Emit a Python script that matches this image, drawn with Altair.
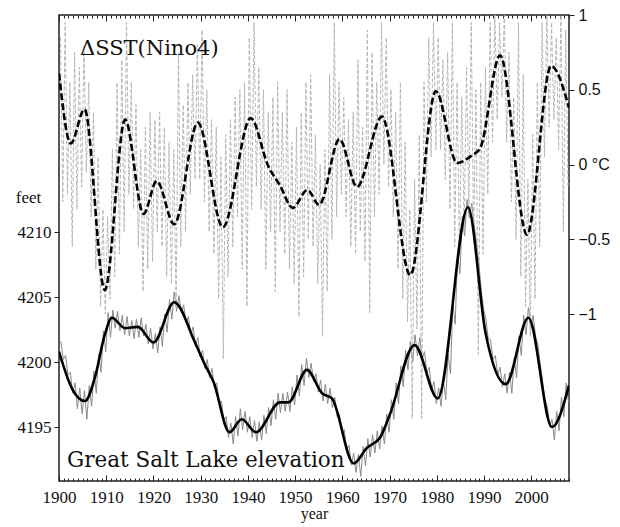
import altair as alt
import pandas as pd

# plot area size in pixels
W, H = 510, 466

YEAR_DOMAIN = [1900, 2008]
FEET_DOMAIN = [4190.85, 4226.69]
SST_DOMAIN = [-2.117, 1.0]

years = list(range(1900, 2008))

# Nino4 SST anomaly (deg C): seasonal highs and lows per year
sst_hi = [
    0.85, 0.95, 0.55, 0.75, 0.65, 0.80, 0.55, 0.35, 0.05, -0.30,
    -0.35, 0.10, 0.55, 0.70, 0.95, 0.55, 0.40, 0.10, 0.25, 0.35,
    0.30, 0.35, 0.25, 0.15, 0.10, 0.75, 0.40, 0.55, 0.60, 0.80,
    0.90, 0.50, 0.30, 0.25, 0.05, 0.20, 0.30, 0.45, 0.50, 0.55,
    0.85, 0.95, 0.65, 0.50, 0.35, 0.45, 0.55, 0.35, 0.50, 0.15,
    0.25, 0.35, 0.55, 0.60, 0.20, 0.00, 0.10, 0.60, 0.95, 0.55,
    0.45, 0.30, 0.35, 0.70, 0.25, 0.90, 0.75, 0.55, 0.95, 0.85,
    0.50, 0.35, 0.55, 0.15, -0.30, -0.10, 0.20, 0.55, 0.85, 0.95,
    0.85, 0.70, 0.75, 0.95, 0.55, 0.45, 0.65, 0.95, 0.50, 0.55,
    0.65, 0.95, 1.00, 0.95, 1.00, 0.75, 0.45, 0.95, 0.60, -0.10,
    0.20, 0.55, 0.95, 1.00, 0.95, 0.85, 1.00, 0.90,
]
sst_lo = [
    -0.25, -0.20, -0.55, -0.30, -0.15, -0.05, -0.35, -0.70, -0.95, -1.00,
    -0.90, -0.75, -0.60, -0.45, -0.20, -0.30, -0.55, -0.85, -0.70, -0.65,
    -0.45, -0.55, -0.75, -0.80, -0.95, -0.55, -0.45, -0.20, -0.10, -0.10,
    -0.25, -0.45, -0.60, -0.90, -1.30, -0.75, -0.55, -0.35, -0.70, -0.95,
    -0.30, -0.15, -0.30, -0.70, -0.45, -0.85, -0.45, -0.60, -0.70, -0.80,
    -1.02, -0.75, -0.50, -0.55, -0.80, -1.15, -0.85, -0.50, -0.35, -0.20,
    -0.35, -0.55, -0.60, -0.45, -0.65, -0.99, -0.35, -0.20, 0.00, -0.15,
    -0.35, -0.70, -0.90, -1.05, -1.70, -1.10, -1.70, -0.25, 0.05, 0.10,
    0.10, -0.10, -0.30, -0.55, -0.60, -0.45, -0.30, -0.50, -1.27, -0.60,
    -0.20, 0.15, 0.30, 0.45, 0.15, -0.25, -0.50, -0.75, -0.95, -1.15,
    -0.90, -0.55, 0.05, 0.25, 0.30, 0.10, -0.45, -0.15,
]

# Great Salt Lake elevation (feet): spring highs and autumn lows per year
gsl_hi = [
    4201.6, 4200.5, 4199.2, 4198.4, 4198.0, 4197.8, 4198.2, 4199.3, 4200.6, 4202.4,
    4203.8, 4204.0, 4203.9, 4203.6, 4203.5, 4203.2, 4203.3, 4203.4, 4202.9, 4202.6,
    4202.2, 4202.7, 4203.7, 4204.8, 4205.4, 4205.1, 4204.4, 4203.5, 4202.7, 4201.9,
    4200.9, 4200.2, 4199.5, 4198.4, 4197.0, 4195.8, 4195.3, 4195.8, 4196.4, 4196.2,
    4195.8, 4195.5, 4195.4, 4195.9, 4196.5, 4197.1, 4197.6, 4197.6, 4197.7, 4198.1,
    4199.0, 4199.8, 4200.3, 4199.9, 4199.1, 4198.6, 4198.3, 4198.0, 4197.3, 4196.0,
    4194.8, 4193.6, 4193.0, 4192.9, 4193.5, 4194.1, 4194.4, 4194.7, 4195.1, 4196.0,
    4197.1, 4198.4, 4199.7, 4200.9, 4201.6, 4202.1, 4201.9, 4200.8, 4199.6, 4198.5,
    4198.0, 4198.6, 4200.6, 4204.5, 4208.4, 4211.2, 4212.5, 4212.2, 4209.2, 4205.6,
    4203.3, 4201.7, 4200.5, 4199.6, 4199.1, 4199.2, 4200.3, 4202.0, 4203.6, 4204.2,
    4203.6, 4201.4, 4198.6, 4196.6, 4195.6, 4196.2, 4197.3, 4198.4,
]
gsl_lo = [
    4200.2, 4199.0, 4197.6, 4196.4, 4196.0, 4195.6, 4196.6, 4197.6, 4199.2, 4200.8,
    4201.9, 4202.6, 4202.4, 4202.1, 4202.0, 4201.8, 4201.9, 4202.0, 4201.4, 4201.0,
    4200.7, 4201.2, 4202.3, 4203.3, 4203.9, 4203.8, 4203.0, 4202.1, 4201.2, 4200.4,
    4199.5, 4198.8, 4198.0, 4196.9, 4195.4, 4194.2, 4193.7, 4194.3, 4194.8, 4194.6,
    4194.2, 4193.9, 4194.0, 4194.5, 4195.1, 4195.6, 4196.1, 4196.2, 4196.2, 4196.7,
    4197.4, 4198.2, 4198.8, 4198.5, 4197.7, 4197.0, 4196.8, 4196.5, 4195.8, 4194.5,
    4193.2, 4192.1, 4191.5, 4191.2, 4192.0, 4192.7, 4193.0, 4193.3, 4193.7, 4194.6,
    4195.6, 4196.8, 4198.1, 4199.4, 4200.0, 4200.5, 4200.2, 4199.2, 4197.9, 4196.8,
    4196.6, 4197.1, 4199.1, 4202.9, 4206.8, 4209.7, 4211.1, 4210.6, 4207.7, 4204.1,
    4201.8, 4200.2, 4199.0, 4198.1, 4197.6, 4197.6, 4198.8, 4200.5, 4202.1, 4202.6,
    4202.0, 4199.9, 4197.1, 4195.0, 4194.0, 4194.7, 4195.8, 4196.9,
]

# low-pass filtered curves (turning points)
sst_smooth_year = [1900, 1902.5, 1905.4, 1909.7, 1914, 1917.9, 1920.7, 1924.4, 1929.4,
                   1934.7, 1940.6, 1944.3, 1946.8, 1949.5, 1952.6, 1955.1, 1959.4,
                   1963.1, 1968.4, 1974.4, 1979.8, 1984.3, 1987.4, 1989.2, 1993.4,
                   1999.1, 2004.2, 2008]
sst_smooth_val = [0.61, 0.14, 0.37, -0.84, 0.30, -0.33, -0.11, -0.40, 0.28,
                  -0.42, 0.31, -0.01, -0.14, -0.29, -0.17, -0.27, 0.17,
                  -0.15, 0.32, -0.74, 0.49, 0.01, 0.06, 0.11, 0.73,
                  -0.47, 0.66, 0.38]

gsl_smooth_year = [1900, 1902.7, 1905.5, 1907.6, 1909.7, 1911.2, 1914, 1916.7, 1920,
                   1924.4, 1928.8, 1930.9, 1932.7, 1936.1, 1938.7, 1941.7, 1946.8,
                   1948.6, 1952.5, 1955.7, 1957.8, 1962.4, 1965.2, 1968, 1970.1,
                   1975.3, 1980.2, 1986.6, 1990.3, 1994.6, 1999.4, 2004.4, 2008]
gsl_smooth_val = [4200.8, 4198.0, 4197.0, 4198.8, 4202.1, 4203.4, 4202.6, 4202.7, 4201.5,
                  4204.6, 4201.5, 4199.8, 4198.5, 4194.6, 4195.6, 4194.6, 4196.9,
                  4196.9, 4199.4, 4197.6, 4197.2, 4192.2, 4193.4, 4194.2, 4196.0,
                  4201.3, 4197.2, 4211.9, 4202.3, 4198.3, 4203.4, 4195.0, 4198.2]

decade_ticks = list(range(1900, 2001, 10))
year_ticks = list(range(1900, 2009))
feet_ticks = [4195, 4200, 4205, 4210]
sst_ticks = [-1, -0.5, 0, 0.5, 1]

raw_sst = pd.DataFrame({
    "year": [y + 0.3 for y in years] + [y + 0.8 for y in years],
    "sst": sst_hi + sst_lo,
}).sort_values("year")
raw_gsl = pd.DataFrame({
    "year": [y + 0.4 for y in years] + [y + 0.9 for y in years],
    "feet": gsl_hi + gsl_lo,
}).sort_values("year")
smooth_sst = pd.DataFrame({"year": sst_smooth_year, "sst": sst_smooth_val})
smooth_gsl = pd.DataFrame({"year": gsl_smooth_year, "feet": gsl_smooth_val})

SERIF = "Liberation Serif"
SANS = "Liberation Sans"
INK = "#111111"

x_scale = alt.Scale(domain=YEAR_DOMAIN, nice=False, zero=False)
feet_scale = alt.Scale(domain=FEET_DOMAIN, nice=False, zero=False)
sst_scale = alt.Scale(domain=SST_DOMAIN, nice=False, zero=False)


def inner_ticks(orient, values, size):
    # tick-only axis moved onto the opposite frame edge so its ticks point inward
    return alt.Axis(orient=orient, offset=-H, values=values, tickSize=size,
                    tickColor="#222222", tickWidth=1, labels=False, domain=False,
                    grid=False, title=None)


gsl_raw_line = alt.Chart(raw_gsl).mark_line(
    color="#8a8a8a", strokeWidth=1, clip=True
).encode(
    x=alt.X("year:Q", scale=x_scale, axis=alt.Axis(
        orient="bottom", values=decade_ticks, ticks=False, domain=False, grid=False,
        format="d", labelFont=SERIF, labelFontSize=17, labelColor=INK,
        labelPadding=8, labelFlush=False, labelOverlap=False,
        title="year", titleFont=SERIF, titleFontSize=16, titleFontWeight="normal",
        titleColor=INK, titlePadding=0)),
    y=alt.Y("feet:Q", scale=feet_scale, axis=alt.Axis(
        orient="left", values=feet_ticks, tickSize=5, tickColor="#222222",
        domain=False, grid=False, format="d", labelFont=SERIF, labelFontSize=17,
        labelColor=INK, labelPadding=3,
        title="feet", titleAngle=0, titleX=-31, titleY=182, titleAlign="center",
        titleBaseline="middle", titleFont=SERIF, titleFontSize=17,
        titleFontWeight="normal", titleColor=INK)),
)

sst_raw_line = alt.Chart(raw_sst).mark_line(
    color="#b5b5b5", strokeWidth=1, strokeDash=[4, 2], clip=True
).encode(
    x=alt.X("year:Q", scale=x_scale, axis=inner_ticks("bottom", year_ticks, 3)),
    y=alt.Y("sst:Q", scale=sst_scale, axis=alt.Axis(
        orient="right", values=sst_ticks, tickSize=5, tickColor="#222222",
        domain=False, grid=False, format="~g",
        labelExpr="datum.value == 0 ? '0  \u00b0C' : replace(datum.label, '-', '\u2212')",
        labelFont=SANS, labelFontSize=16, labelColor=INK, labelPadding=4,
        title=None)),
)

gsl_smooth_line = alt.Chart(smooth_gsl).mark_line(
    color="#000000", strokeWidth=2.6, interpolate="monotone", clip=True
).encode(
    x=alt.X("year:Q", scale=x_scale, axis=inner_ticks("top", year_ticks, 3)),
    y=alt.Y("feet:Q", scale=feet_scale, axis=None),
)

sst_smooth_line = alt.Chart(smooth_sst).mark_line(
    color="#000000", strokeWidth=2.6, strokeDash=[7, 3], interpolate="monotone", clip=True
).encode(
    x=alt.X("year:Q", scale=x_scale, axis=inner_ticks("top", decade_ticks, 6)),
    y=alt.Y("sst:Q", scale=sst_scale, axis=None),
)

# carries the long decade ticks along the top edge
top_majors = alt.Chart(smooth_sst).mark_line(opacity=0).encode(
    x=alt.X("year:Q", scale=x_scale, axis=inner_ticks("bottom", decade_ticks, 6)),
    y=alt.Y("sst:Q", scale=sst_scale, axis=None),
)

sst_label = alt.Chart(pd.DataFrame({"t": ["\u0394SST(Nino4)"]})).mark_text(
    font="DejaVu Serif", fontSize=21, align="left", baseline="alphabetic", color=INK
).encode(text="t:N", x=alt.value(21), y=alt.value(40))

gsl_label = alt.Chart(pd.DataFrame({"t": ["Great Salt Lake elevation"]})).mark_text(
    font="DejaVu Serif", fontSize=21.5, align="left", baseline="alphabetic", color=INK
).encode(text="t:N", x=alt.value(8), y=alt.value(452))

chart = alt.layer(
    gsl_raw_line, sst_raw_line, gsl_smooth_line, sst_smooth_line, top_majors,
    sst_label, gsl_label,
).resolve_scale(
    y="independent"
).resolve_axis(
    x="independent", y="independent"
).properties(
    width=W, height=H,
    autosize=alt.AutoSizeParams(type="none"),
    padding={"left": 59, "top": 15, "right": 51, "bottom": 46},
    background="white",
).configure_view(
    stroke="#222222", strokeWidth=1.5
)

chart.save("out.html", embed_options={"renderer": "svg", "actions": False})
